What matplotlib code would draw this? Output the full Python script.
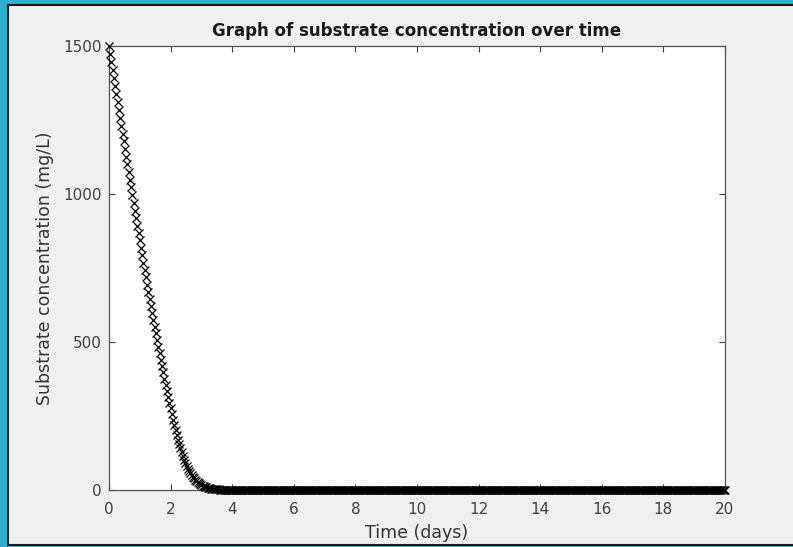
#! /usr/bin/env python3
'''
Substrate concentration over time (MATLAB-style figure in a screenshot)
'''

import numpy as np
import matplotlib
matplotlib.use('Agg')
import matplotlib.pyplot as plt
from matplotlib.patches import Rectangle


title = 'Graph of substrate concentration over time'
xlabel = 'Time (days)'
ylabel = 'Substrate concentration (mg/L)'

x_ticks = [0, 2, 4, 6, 8, 10, 12, 14, 16, 18, 20]
y_ticks = [0, 500, 1000, 1500]

time_step = 0.04   # days between samples
n_samples = 501    # 0 .. 20 days

# substrate, one value per sample, t = 0 .. 3.60
conc_start = [
    1500, 1473, 1446, 1419, 1392, 1365, 1338, 1311, 1284, 1257,
    1231, 1204, 1178, 1152, 1126, 1100, 1074, 1048, 1022, 996,
    970, 944, 919, 893, 868, 843, 818, 793, 768, 743,
    718, 694, 670, 646, 622, 598, 575, 552, 529, 506,
    484, 462, 440, 418, 397, 376, 355, 335, 315, 295,
    276, 257, 238, 220, 203, 186, 170, 155, 141, 127,
    114, 102, 91, 81, 72, 64, 57, 50, 44, 39,
    34, 30, 26, 22.5, 19.5, 16.8, 14.4, 12.3, 10.5, 8.9,
    7.6, 6.4, 5.4, 4.6, 3.9, 3.3, 2.8, 2.3, 2.0, 1.7,
    1.4,
]
conc_tail = 0.0   # flat after the substrate is used up


def main():
    time = np.round(np.arange(n_samples) * time_step, 2)
    conc = conc_start + [conc_tail] * (n_samples - len(conc_start))

    # the screenshot is stretched sideways, DejaVu's wide glyphs fit better
    plt.rcParams['font.family'] = ['DejaVu Sans']
    fig = plt.figure(figsize=(7.93, 5.47), dpi=100)
    fig.patch.set_facecolor('#2bb1cf')

    # the MATLAB window
    fig.patches.append(Rectangle((8 / 793, 2 / 547), 1.0, 540 / 547,
                                 transform=fig.transFigure,
                                 facecolor='#f0f0f0', edgecolor='#1a1a1a',
                                 linewidth=1.5, zorder=-5))

    ax = fig.add_axes([109 / 793, 57 / 547, 616 / 793, 444 / 547])
    ax.plot(time, conc, linestyle='none', marker='x', color='black',
            markersize=6, markeredgewidth=0.9, clip_on=False, zorder=3)

    ax.set_xlim(0, 20)
    ax.set_ylim(0, 1500)
    ax.set_xticks(x_ticks)
    ax.set_yticks(y_ticks)
    ax.tick_params(direction='in', length=4, width=0.8, colors='#404040',
                   labelcolor='#404040', labelsize=11,
                   top=True, right=True)
    ax.tick_params(axis='x', pad=9)
    ax.tick_params(axis='y', pad=5)
    for s in ax.spines.values():
        s.set_color('#505050')
        s.set_linewidth(0.9)

    ax.set_title(title, fontsize=12, fontweight='bold', color='#1a1a1a',
                 pad=7)
    ax.set_xlabel(xlabel, fontsize=12.5, color='#333333', labelpad=5)
    ax.set_ylabel(ylabel, fontsize=12.5, color='#333333', labelpad=7)

    fig.savefig('out.png', dpi=100, facecolor=fig.get_facecolor())


if __name__ == '__main__':
    main()
